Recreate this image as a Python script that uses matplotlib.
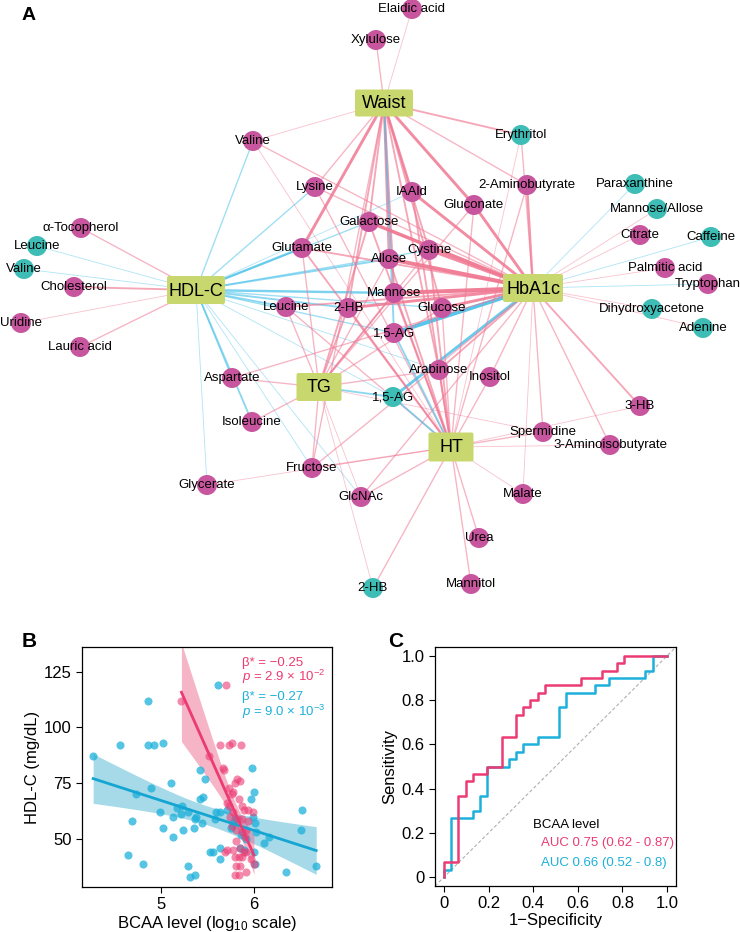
import numpy as np
import matplotlib
matplotlib.use("Agg")
import matplotlib.pyplot as plt
from matplotlib.patches import Circle, FancyBboxPatch

plt.rcParams['font.family'] = ['Liberation Sans', 'DejaVu Sans']
plt.rcParams['mathtext.fontset'] = 'custom'
plt.rcParams['mathtext.rm'] = 'Liberation Sans'
plt.rcParams['mathtext.it'] = 'Liberation Sans:italic'

# ---------------- panel A: network ----------------
hub_names = ['Waist', 'HDL-C', 'HbA1c', 'TG', 'HT']
hub_x = [384, 196, 533, 319, 451]
hub_y = [103, 290, 288, 387, 447]
hub_w = [58, 58, 60, 45, 45]
hub_h = [27, 28, 28, 28, 29]

node_keys = ['Elaidic', 'Xylulose', 'Valine_m', 'Lysine', 'aToc', 'Leucine_t', 'Valine_t',
             'Cholesterol', 'Uridine', 'Lauric', 'Glutamate', 'Galactose', 'IAAld', 'Gluconate',
             'Erythritol', '2AB', 'Cystine', 'Allose', 'Mannose', '2HB_m', 'Leucine_m', 'Glucose',
             'AG_m', 'Arabinose', 'Inositol', 'AG_t', 'Aspartate', 'Isoleucine', 'Glycerate',
             'Fructose', 'GlcNAc', '2HB_t', 'Mannitol', 'Urea', 'Malate', 'Spermidine', '3AIB',
             '3HB', 'DHA', 'Adenine', 'Tryptophan', 'Palmitic', 'Caffeine', 'Citrate', 'ManAll',
             'Paraxanthine']
node_labels = ['Elaidic acid', 'Xylulose', 'Valine', 'Lysine', 'α-Tocopherol', 'Leucine', 'Valine',
               'Cholesterol', 'Uridine', 'Lauric acid', 'Glutamate', 'Galactose', 'IAAld', 'Gluconate',
               'Erythritol', '2-Aminobutyrate', 'Cystine', 'Allose', 'Mannose', '2-HB', 'Leucine', 'Glucose',
               '1,5-AG', 'Arabinose', 'Inositol', '1,5-AG', 'Aspartate', 'Isoleucine', 'Glycerate',
               'Fructose', 'GlcNAc', '2-HB', 'Mannitol', 'Urea', 'Malate', 'Spermidine', '3-Aminoisobutyrate',
               '3-HB', 'Dihydroxyacetone', 'Adenine', 'Tryptophan', 'Palmitic acid', 'Caffeine', 'Citrate',
               'Mannose/Allose', 'Paraxanthine']
node_x = [412, 376, 253, 315, 81, 37, 24, 74, 21, 80, 302, 369, 412, 474, 521, 527, 429, 389, 394,
          348, 286, 442, 394, 439, 490, 393, 232, 252, 207, 312, 361, 373, 471, 479, 523, 543, 610,
          640, 652, 703, 708, 665, 711, 640, 657, 635]
node_y = [9, 40, 141, 187, 228, 246, 269, 287, 323, 347, 248, 222, 192, 205, 135, 185, 250, 259, 293,
          308, 307, 308, 333, 370, 377, 397, 378, 422, 485, 468, 497, 588, 584, 538, 494, 432, 445,
          406, 309, 328, 284, 268, 237, 235, 209, 184]
node_type = ['m', 'm', 'm', 'm', 'm', 't', 't', 'm', 'm', 'm', 'm', 'm', 'm', 'm', 't', 'm', 'm', 'm', 'm',
             'm', 'm', 'm', 'm', 'm', 'm', 't', 'm', 'm', 'm', 'm', 'm', 't', 'm', 'm', 'm', 'm', 'm',
             'm', 't', 't', 'm', 'm', 't', 'm', 't', 't']

# (hub, metabolite, sign, strength)
edges = [
    ('Waist', 'Elaidic', 1, 1), ('Waist', 'Xylulose', 1, 1.5), ('Waist', 'Valine_m', 1, 1),
    ('Waist', 'Lysine', 1, 1.5), ('Waist', 'Glutamate', 1, 3), ('Waist', 'Galactose', 1, 2),
    ('Waist', 'IAAld', 1, 2.5), ('Waist', 'Gluconate', 1, 3), ('Waist', 'Erythritol', 1, 2),
    ('Waist', '2AB', 1, 1.5), ('Waist', 'Cystine', 1, 2), ('Waist', 'Allose', 1, 2.5),
    ('Waist', 'Mannose', 1, 2.5), ('Waist', '2HB_m', 1, 2), ('Waist', 'Glucose', 1, 2),
    ('Waist', 'Arabinose', 1, 2), ('Waist', 'Fructose', 1, 1.5), ('Waist', 'AG_m', -1, 2),
    ('HDL-C', 'aToc', 1, 1.5), ('HDL-C', 'Leucine_t', -1, 1), ('HDL-C', 'Valine_t', -1, 1),
    ('HDL-C', 'Cholesterol', 1, 2), ('HDL-C', 'Uridine', 1, 1), ('HDL-C', 'Lauric', 1, 1.5),
    ('HDL-C', 'Valine_m', -1, 1.5), ('HDL-C', 'Lysine', -1, 1.5), ('HDL-C', 'Glutamate', -1, 2.5),
    ('HDL-C', 'Galactose', -1, 1.5), ('HDL-C', 'IAAld', -1, 1), ('HDL-C', 'Cystine', -1, 1.5),
    ('HDL-C', 'Allose', -1, 2), ('HDL-C', 'Mannose', -1, 2.5), ('HDL-C', '2HB_m', -1, 2),
    ('HDL-C', 'Leucine_m', -1, 2), ('HDL-C', 'Glucose', -1, 1.5), ('HDL-C', 'AG_m', -1, 1.5),
    ('HDL-C', 'Arabinose', -1, 1), ('HDL-C', 'AG_t', -1, 1), ('HDL-C', 'Aspartate', -1, 1.5),
    ('HDL-C', 'Isoleucine', -1, 2), ('HDL-C', 'Glycerate', -1, 1), ('HDL-C', 'Fructose', -1, 1),
    ('HDL-C', 'GlcNAc', -1, 1),
    ('HbA1c', 'Valine_m', 1, 1.5), ('HbA1c', 'Lysine', 1, 1.5), ('HbA1c', 'Glutamate', 1, 2),
    ('HbA1c', 'Galactose', 1, 3.5), ('HbA1c', 'IAAld', 1, 3), ('HbA1c', 'Gluconate', 1, 3),
    ('HbA1c', '2AB', 1, 2.5), ('HbA1c', 'Erythritol', 1, 1.5), ('HbA1c', 'Cystine', 1, 3),
    ('HbA1c', 'Allose', 1, 4), ('HbA1c', 'Mannose', 1, 4), ('HbA1c', '2HB_m', 1, 3),
    ('HbA1c', 'Leucine_m', 1, 2), ('HbA1c', 'Glucose', 1, 3), ('HbA1c', 'AG_m', -1, 4),
    ('HbA1c', 'Arabinose', 1, 2), ('HbA1c', 'Inositol', 1, 1.5), ('HbA1c', 'AG_t', -1, 3),
    ('HbA1c', 'Aspartate', 1, 1.5), ('HbA1c', 'Fructose', 1, 1.5), ('HbA1c', 'GlcNAc', 1, 1.5),
    ('HbA1c', 'Malate', 1, 1), ('HbA1c', 'Spermidine', 1, 1.5), ('HbA1c', '3AIB', 1, 1.5),
    ('HbA1c', '3HB', 1, 2), ('HbA1c', 'DHA', 1, 1), ('HbA1c', 'Adenine', 1, 1),
    ('HbA1c', 'Tryptophan', -1, 1), ('HbA1c', 'Palmitic', 1, 1), ('HbA1c', 'Caffeine', -1, 1),
    ('HbA1c', 'Citrate', 1, 1), ('HbA1c', 'ManAll', 1, 1), ('HbA1c', 'Paraxanthine', -1, 1),
    ('TG', 'Glutamate', 1, 1.5), ('TG', 'Galactose', 1, 2), ('TG', 'Cystine', 1, 1.5),
    ('TG', 'Allose', 1, 1.5), ('TG', 'Mannose', 1, 2), ('TG', '2HB_m', 1, 2),
    ('TG', 'Leucine_m', 1, 1.5), ('TG', 'Glucose', 1, 1.5), ('TG', 'Arabinose', 1, 1.5),
    ('TG', 'AG_t', -1, 2), ('TG', 'Aspartate', 1, 1.5), ('TG', 'Isoleucine', 1, 1.5),
    ('TG', 'Fructose', 1, 1.5), ('TG', 'GlcNAc', 1, 1), ('TG', '2HB_t', 1, 1),
    ('TG', 'Spermidine', 1, 1), ('TG', 'Gluconate', 1, 1.5),
    ('HT', 'Valine_m', 1, 1), ('HT', 'Lysine', 1, 1.5), ('HT', 'Glutamate', 1, 2),
    ('HT', 'Galactose', 1, 2), ('HT', 'IAAld', 1, 2), ('HT', 'Gluconate', 1, 1.5),
    ('HT', '2AB', 1, 1.5), ('HT', 'Erythritol', 1, 1), ('HT', 'Cystine', 1, 2),
    ('HT', 'Allose', 1, 2), ('HT', 'Mannose', 1, 2), ('HT', '2HB_m', 1, 2),
    ('HT', 'Leucine_m', 1, 1.5), ('HT', 'Glucose', 1, 1.5), ('HT', 'AG_m', -1, 2),
    ('HT', 'Arabinose', 1, 2), ('HT', 'Inositol', 1, 1.5), ('HT', 'AG_t', -1, 2),
    ('HT', 'Fructose', 1, 1.5), ('HT', 'GlcNAc', 1, 1.5), ('HT', 'Glycerate', 1, 1),
    ('HT', '2HB_t', 1, 1.5), ('HT', 'Mannitol', 1, 1.5), ('HT', 'Urea', 1, 1.5),
    ('HT', 'Malate', 1, 1), ('HT', 'Spermidine', 1, 1.5), ('HT', '3AIB', 1, 1),
    ('HT', '3HB', 1, 1),
]

# ---------------- panel B: scatter ----------------
x_blue = [4.27, 4.56, 4.86, 4.86, 4.92, 5.02, 4.73, 4.89, 4.69, 4.64, 4.81, 4.99, 5.02, 5.11, 5.13,
          5.13, 5.17, 5.23, 5.22, 5.24, 5.29, 5.29, 5.31, 5.37, 5.37, 5.38, 5.35, 5.44, 5.42, 5.45,
          5.42, 5.47, 5.53, 5.56, 5.61, 5.59, 5.63, 5.64, 5.64, 5.58, 5.71, 5.80, 5.85, 5.89, 5.98,
          6.00, 5.97, 5.99, 6.01, 6.02, 6.00, 6.01, 6.16, 6.11, 6.34, 6.51, 6.52, 6.67, 5.75, 5.78,
          5.86, 5.92]
y_blue = [87, 92, 112, 92, 92, 93, 70, 73, 58, 43, 39, 62, 55, 75, 60,
          51, 64, 65, 61, 54, 62, 38, 33, 34, 59, 60, 55, 57, 68, 69,
          81, 77, 44, 44, 119, 62, 62, 46, 41, 59, 63, 59, 46, 45, 82,
          71, 68, 60, 57, 53, 44, 39, 51, 48, 35, 54, 63, 38, 55, 57,
          52, 50]
x_pink = [5.22, 5.70, 5.52, 5.63, 5.73, 5.76, 5.86, 5.67, 5.68, 5.82, 5.85, 5.80, 5.73, 5.76, 5.77,
          5.84, 5.71, 5.73, 5.87, 5.89, 5.94, 5.99, 5.78, 5.74, 5.82, 5.87, 5.94, 5.76, 5.81, 5.87,
          5.92, 5.90, 5.81, 5.85, 5.78, 5.71, 5.69, 5.89, 5.92, 5.84, 5.87, 5.80, 5.85, 5.81, 6.00,
          5.91, 5.80, 5.84, 5.97]
y_pink = [112, 119, 87, 92, 92, 93, 92, 82, 81, 77, 76, 75, 73, 70, 71,
          68, 66, 65, 65, 63, 63, 62, 62, 60, 59, 59, 58, 56, 54, 53,
          54, 51, 49, 46, 45, 45, 44, 44, 44, 42, 42, 42, 38, 38, 39,
          35, 34, 34, 41]

# ---------------- panel C: ROC ----------------
n_ctrl, n_case = 31, 30
fpr_pink = [0, 0, 2, 3, 4, 6, 8, 10, 11, 12, 13, 14, 19, 22, 24, 25, 31]
tpr_pink = [0, 2, 11, 13, 14, 15, 19, 22, 23, 24, 25, 26, 27, 28, 29, 30, 30]
fpr_blue = [0, 0, 1, 4, 5, 6, 9, 10, 11, 13, 16, 17, 21, 23, 28, 29, 31]
tpr_blue = [0, 1, 8, 9, 11, 15, 16, 17, 18, 19, 23, 25, 26, 27, 28, 30, 30]

PINK_E, BLUE_E = '#F07893', '#4EC3EA'
MAG, TEAL, HUB = '#C8569E', '#3DBDB5', '#C8D86E'
PINK, BLUE = '#EC3B73', '#1DB0DA'

W, H = 740, 932
fig = plt.figure(figsize=(7.4, 9.32), dpi=100)

axa = fig.add_axes([0, 1 - 620 / H, 1, 620 / H])
axa.set_xlim(0, 740)
axa.set_ylim(620, 0)
axa.axis('off')

pos = {k: (x, y) for k, x, y in zip(node_keys, node_x, node_y)}
hpos = {k: (x, y) for k, x, y in zip(hub_names, hub_x, hub_y)}

for hub, key, sign, w in edges:
    x0, y0 = hpos[hub]
    x1, y1 = pos[key]
    axa.plot([x0, x1], [y0, y1], color=PINK_E if sign > 0 else BLUE_E,
             lw=0.6 + 0.75 * (w - 1), alpha=min(0.45 + 0.2 * (w - 1), 0.95),
             solid_capstyle='butt', zorder=1)

for k, lab, x, y, t in zip(node_keys, node_labels, node_x, node_y, node_type):
    axa.add_patch(Circle((x, y), 10, color=MAG if t == 'm' else TEAL, lw=0, zorder=3))
    axa.text(x, y, lab, ha='center', va='center', fontsize=9.5, zorder=5)

for name, x, y, w, h in zip(hub_names, hub_x, hub_y, hub_w, hub_h):
    axa.add_patch(FancyBboxPatch((x - w / 2 + 2, y - h / 2 + 2), w - 4, h - 4,
                                 boxstyle='round,pad=2', fc=HUB, ec='none', zorder=4))
    axa.text(x, y + 1, name, ha='center', va='center', fontsize=13, zorder=5)

fig.text(22 / W, 1 - 20 / H, 'A', fontsize=14, fontweight='bold')

# ---------------- panel B ----------------
axb = fig.add_axes([82 / W, 1 - 887 / H, 250 / W, 240 / H])


def fit_band(x, y, n_grid=100):
    x = np.asarray(x, float)
    y = np.asarray(y, float)
    b, a = np.polyfit(x, y, 1)
    xs = np.linspace(x.min(), x.max(), n_grid)
    yh = a + b * xs
    resid = y - (a + b * x)
    s = np.sqrt(np.sum(resid ** 2) / (len(x) - 2))
    sxx = np.sum((x - x.mean()) ** 2)
    se = s * np.sqrt(1 / len(x) + (xs - x.mean()) ** 2 / sxx)
    return xs, yh, yh - 1.99 * se, yh + 1.99 * se


xs, yh, lo, hi = fit_band(x_blue, y_blue)
axb.fill_between(xs, lo, hi, color='#3AAFD0', alpha=0.45, lw=0, zorder=1)
axb.scatter(x_blue, y_blue, s=34, color=BLUE, alpha=0.75, lw=0, zorder=2)
axb.plot(xs, yh, color='#14A5D3', lw=2, zorder=4)

xs, yh, lo, hi = fit_band(x_pink, y_pink)
axb.fill_between(xs, lo, hi, color='#EE6A90', alpha=0.5, lw=0, zorder=1.5)
axb.scatter(x_pink, y_pink, s=34, color=PINK, alpha=0.6, lw=0, zorder=3)
axb.plot(xs, yh, color=PINK, lw=2, zorder=4)

axb.set_xlim(4.15, 6.84)
axb.set_ylim(28.5, 136)
axb.set_xticks([5, 6])
axb.set_yticks([50, 75, 100, 125])
axb.tick_params(labelsize=12, length=4, width=0.8)
axb.set_xlabel('BCAA level (log$_{10}$ scale)', fontsize=12, labelpad=1)
axb.set_ylabel('HDL-C (mg/dL)', fontsize=12, labelpad=3)
for sp in axb.spines.values():
    sp.set_linewidth(0.9)
axb.text(0.64, 0.935, 'β* = −0.25', color=PINK, fontsize=9.5, transform=axb.transAxes, va='center')
axb.text(0.64, 0.875, r'$\it{p}$ = 2.9 × 10$^{-2}$', color=PINK, fontsize=9.5, transform=axb.transAxes, va='center')
axb.text(0.64, 0.79, 'β* = −0.27', color=BLUE, fontsize=9.5, transform=axb.transAxes, va='center')
axb.text(0.64, 0.73, r'$\it{p}$ = 9.0 × 10$^{-3}$', color=BLUE, fontsize=9.5, transform=axb.transAxes, va='center')
fig.text(22 / W, 1 - 647 / H, 'B', fontsize=15, fontweight='bold')

# ---------------- panel C ----------------
axc = fig.add_axes([435 / W, 1 - 886 / H, 241 / W, 239 / H])
axc.axline((0, 0), (1, 1), color='#B0B0B0', lw=0.8, ls=(0, (3, 2)), zorder=1)
axc.plot(np.array(fpr_blue) / n_ctrl, np.array(tpr_blue) / n_case, drawstyle='steps-post',
         color=BLUE, lw=1.8, zorder=2)
axc.plot(np.array(fpr_pink) / n_ctrl, np.array(tpr_pink) / n_case, drawstyle='steps-post',
         color=PINK, lw=1.8, zorder=3)
axc.set_xlim(-0.04, 1.04)
axc.set_ylim(-0.04, 1.04)
ticks = [0, 0.2, 0.4, 0.6, 0.8, 1.0]
tlabs = ['0', '0.2', '0.4', '0.6', '0.8', '1.0']
axc.set_xticks(ticks, tlabs)
axc.set_yticks(ticks, tlabs)
axc.tick_params(labelsize=12, length=4, width=0.8)
axc.set_xlabel('1−Specificity', fontsize=12, labelpad=1)
axc.set_ylabel('Sensitivity', fontsize=12, labelpad=3)
for sp in axc.spines.values():
    sp.set_linewidth(0.9)
axc.text(0.405, 0.255, 'BCAA level', fontsize=9.5, transform=axc.transAxes, va='center')
axc.text(0.44, 0.18, 'AUC 0.75 (0.62 - 0.87)', color=PINK, fontsize=9.5, transform=axc.transAxes, va='center')
axc.text(0.44, 0.096, 'AUC 0.66 (0.52 - 0.8)', color=BLUE, fontsize=9.5, transform=axc.transAxes, va='center')
fig.text(388 / W, 1 - 647 / H, 'C', fontsize=15, fontweight='bold')

fig.savefig('out.png', dpi=100)
